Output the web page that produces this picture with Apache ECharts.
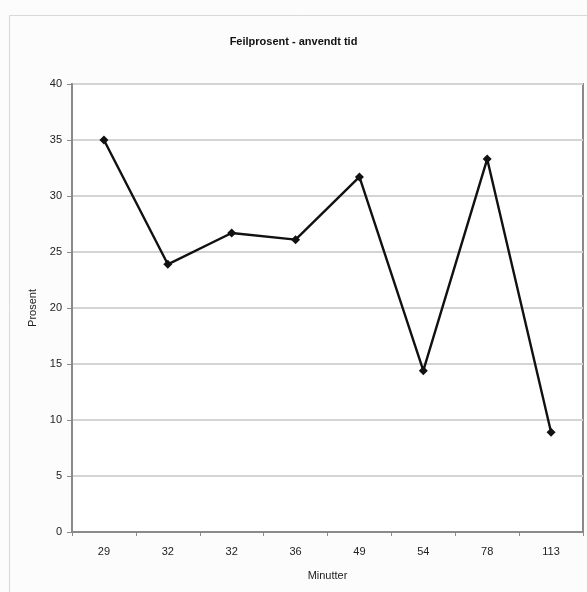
<!DOCTYPE html>
<html>
<head>
<meta charset="utf-8">
<script src="https://cdn.jsdelivr.net/npm/echarts@6/dist/echarts.min.js"></script>
<style>
html,body{margin:0;padding:0;background:#fcfcfc;}
#c{width:587px;height:592px;}
</style>
</head>
<body>
<div id="c"></div>
<script>
const categories = ['29', '32', '32', '36', '49', '54', '78', '113'];
const values = [35, 23.9, 26.7, 26.1, 31.7, 14.4, 33.3, 8.9];
const yTicks = [0, 5, 10, 15, 20, 25, 30, 35, 40];

const chart = echarts.init(document.getElementById('c'));
const font = 'Liberation Sans, Arial, sans-serif';
chart.setOption({
  backgroundColor: '#fcfcfc',
  animation: false,
  graphic: [{
    type: 'rect', left: 7, top: 13, z: -1,
    shape: { width: 620, height: 620 },
    style: { fill: 'none', stroke: '#d8d8d8', lineWidth: 1 }
  }],
  title: {
    text: 'Feilprosent - anvendt tid',
    left: 'center', top: 31,
    textStyle: { fontFamily: font, fontSize: 11, fontWeight: 'bold', color: '#111' }
  },
  grid: {
    left: 72, right: 4, top: 84, bottom: 60,
    show: true, backgroundColor: '#ffffff', borderColor: '#8a8a8a', borderWidth: 2
  },
  xAxis: {
    type: 'category', data: categories, boundaryGap: true,
    name: 'Minutter', nameLocation: 'middle', nameGap: 38,
    nameTextStyle: { fontFamily: font, fontSize: 11, color: '#222' },
    axisLine: { lineStyle: { color: '#8a8a8a', width: 2 } },
    axisTick: { show: true, length: 4, lineStyle: { color: '#8a8a8a' } },
    axisLabel: { fontFamily: font, fontSize: 11, color: '#222', margin: 14 }
  },
  yAxis: {
    type: 'value', min: yTicks[0], max: yTicks[yTicks.length - 1], interval: yTicks[1] - yTicks[0],
    name: 'Prosent', nameLocation: 'middle', nameGap: 34, nameRotate: 90,
    nameTextStyle: { fontFamily: font, fontSize: 11, color: '#222' },
    axisLine: { show: true, lineStyle: { color: '#8a8a8a', width: 2 } },
    axisTick: { show: true, length: 5, lineStyle: { color: '#8a8a8a' } },
    axisLabel: { fontFamily: font, fontSize: 11, color: '#222', margin: 10 },
    splitLine: { lineStyle: { color: '#d4d4d4', width: 2 } }
  },
  series: [{
    type: 'line', data: values,
    symbol: 'diamond', symbolSize: 9,
    lineStyle: { color: '#111', width: 2.4 },
    itemStyle: { color: '#111' }
  }]
});
</script>
</body>
</html>
